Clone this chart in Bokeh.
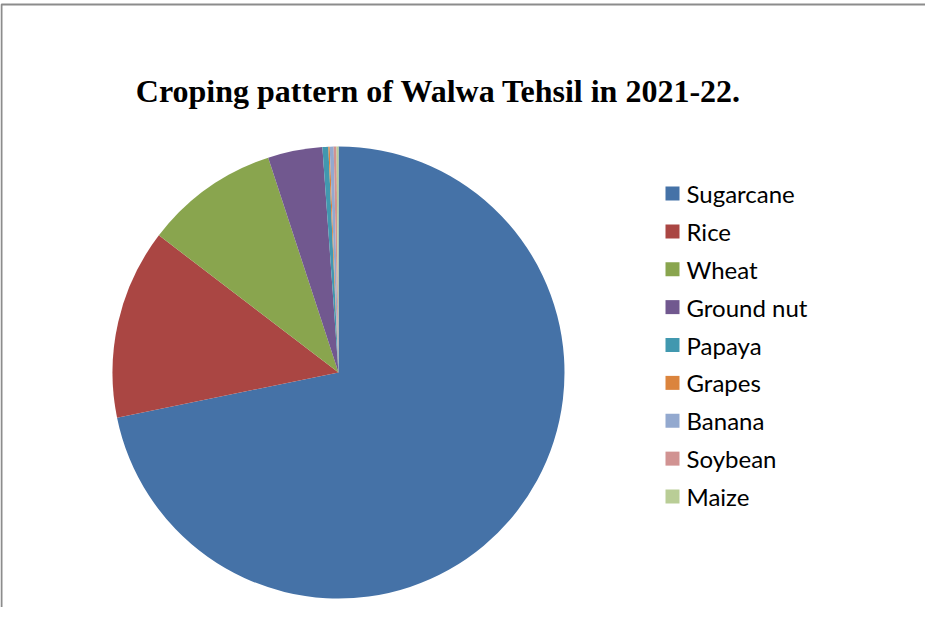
import math
from bokeh.plotting import figure
from bokeh.models import Range1d, ColumnDataSource
from bokeh.core.properties import value
from bokeh.embed import file_html
from bokeh.resources import INLINE

# ---- data ----
crops = ["Sugarcane", "Rice", "Wheat", "Ground nut", "Papaya", "Grapes", "Banana", "Soybean", "Maize"]
share = [71.9, 13.6, 9.6, 3.9, 0.42, 0.10, 0.28, 0.20, 0.14]
colors = ["#4572A7", "#AA4643", "#89A54E", "#71588F", "#4198AF", "#DB843D", "#93A9CF", "#D19392", "#B9CD96"]
title_text = "Croping pattern of Walwa Tehsil in 2021-22."

W, H = 925, 607
p = figure(width=W, height=H, output_backend="svg", toolbar_location=None,
           x_range=Range1d(0, W), y_range=Range1d(0, H), min_border=0)
p.axis.visible = False
p.grid.visible = False
p.outline_line_color = None
p.background_fill_color = "white"
p.border_fill_color = "white"

# chart border (extends beyond the window)
p.quad(left=[1], right=[W + 50], bottom=[-50], top=[H - 4], fill_color=None,
       line_color="#8c8c8c", line_width=2)

# pie wedges (clockwise from 12 o'clock)
total = sum(share)
starts, ends = [], []
acc = 0.0
for v in share:
    a0 = math.pi / 2 - 2 * math.pi * acc / total
    acc += v
    a1 = math.pi / 2 - 2 * math.pi * acc / total
    starts.append(a1)
    ends.append(a0)
src = ColumnDataSource(dict(start=starts, end=ends, color=colors, crop=crops))
cx, cy, r = 338, 235, 226
p.wedge(x=cx, y=cy, radius=r, start_angle="start", end_angle="end",
        fill_color="color", line_color=None, source=src)

# title
p.text(x=[438], y=[615 - 98], text=[title_text], text_font=value("Liberation Serif"),
       text_font_style="bold", text_font_size="32px", text_align="center",
       text_baseline="alphabetic", text_color="black")

# legend
ly = [615 - 201 - 37.875 * i for i in range(len(crops))]
p.rect(x=[680 - 8] * len(crops), y=ly, width=14, height=14, fill_color=colors, line_color=None)
p.text(x=[694 - 8] * len(crops), y=ly, text=crops, text_font=value("Lato"),
       text_font_size="24px", text_baseline="middle", text_align="left", text_color="black")

open("out.html", "w").write(file_html(p, INLINE))
